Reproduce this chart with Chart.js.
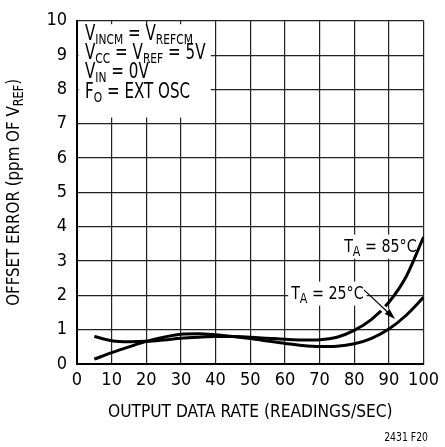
<!DOCTYPE html>
<html>
<head>
<meta charset="utf-8">
<script src="https://cdn.jsdelivr.net/npm/chart.js@4.4.1/dist/chart.umd.min.js"></script>
<style>
  html, body { margin: 0; padding: 0; background: #fff; }
  #wrap { width: 445px; height: 447px; }
</style>
</head>
<body>
<div id="wrap"><canvas id="c" width="445" height="447"></canvas></div>
<script>
// data
const rates = [5, 10, 15, 20, 25, 30, 35, 40, 45, 50, 55, 60, 65, 70, 75, 80, 85, 90, 95, 100];
const err85 = [0.80, 0.68, 0.65, 0.66, 0.70, 0.75, 0.78, 0.80, 0.80, 0.78, 0.75, 0.72, 0.70, 0.71, 0.78, 0.98, 1.30, 1.80, 2.55, 3.70];
const err25 = [0.14, 0.33, 0.50, 0.66, 0.78, 0.87, 0.88, 0.85, 0.80, 0.74, 0.67, 0.60, 0.54, 0.51, 0.52, 0.59, 0.75, 1.02, 1.42, 1.94];
const xMin = 0, xMax = 100, xStep = 10;
const yMin = 0, yMax = 10, yStep = 1;

const FAMILY = '"Liberation Sans Narrow", "DejaVu Sans Condensed", "Roboto", sans-serif';

// draws text made of [text, isSubscript] parts, squeezed horizontally by sx
function rich(ctx, parts, x, y, align, size, subSize, sx) {
  const main = size + 'px ' + FAMILY, sub = subSize + 'px ' + FAMILY;
  let w = 0;
  parts.forEach(([t, s]) => { ctx.font = s ? sub : main; w += ctx.measureText(t).width; });
  const sw = w * sx;
  const left = align === 'right' ? x - sw : align === 'center' ? x - sw / 2 : x;
  ctx.save();
  ctx.translate(left, y);
  ctx.scale(sx, 1);
  ctx.textAlign = 'left';
  ctx.textBaseline = 'alphabetic';
  let cx = 0;
  parts.forEach(([t, s]) => {
    ctx.font = s ? sub : main;
    ctx.fillText(t, cx, s ? subSize * 0.3 : 0);
    cx += ctx.measureText(t).width;
  });
  ctx.restore();
  return { left, width: sw };
}

function richWidth(ctx, parts, size, subSize, sx) {
  let w = 0;
  parts.forEach(([t, s]) => { ctx.font = (s ? subSize : size) + 'px ' + FAMILY; w += ctx.measureText(t).width; });
  return w * sx;
}

const label85 = [['T', 0], ['A', 1], [' = 85°C', 0]];
const label25 = [['T', 0], ['A', 1], [' = 25°C', 0]];
const conditions = [
  [['V', 0], ['INCM', 1], [' = V', 0], ['REFCM', 1]],
  [['V', 0], ['CC', 1], [' = V', 0], ['REF', 1], [' = 5V', 0]],
  [['V', 0], ['IN', 1], [' = 0V', 0]],
  [['F', 0], ['O', 1], [' = EXT OSC', 0]]
];
const SQ = 0.88;

const notes = {
  id: 'notes',
  beforeDatasetsDraw(chart) {
    const { ctx, scales: { x, y }, chartArea } = chart;
    ctx.save();
    ctx.fillStyle = '#fff';
    // conditions box
    const bx = chartArea.left + 1.5;
    const by = y.getPixelForValue(9.9);
    ctx.fillRect(bx, by, x.getPixelForValue(38.6) - bx, y.getPixelForValue(7.18) - by);
    // label backgrounds
    const w85 = richWidth(ctx, label85, 18, 14, SQ);
    const r85 = x.getPixelForValue(98);
    const c85 = y.getPixelForValue(3.45);
    ctx.fillRect(r85 - w85 - 3, c85 - 11, w85 + 6, 24);
    const w25 = richWidth(ctx, label25, 18, 14, SQ);
    const l25 = x.getPixelForValue(61.8);
    const c25 = y.getPixelForValue(2.08);
    ctx.fillRect(l25 - 3, c25 - 11, w25 + 6, 24);
    ctx.restore();
  },
  afterDatasetsDraw(chart) {
    const { ctx, scales: { x, y } } = chart;
    const x1 = x.getPixelForValue(82.8), y1 = y.getPixelForValue(2.16);
    const x2 = x.getPixelForValue(91.8), y2 = y.getPixelForValue(1.31);
    const ang = Math.atan2(y2 - y1, x2 - x1);
    ctx.save();
    ctx.lineCap = 'butt';
    // white halo cuts the 85C curve where the arrow crosses it
    ctx.strokeStyle = '#fff';
    ctx.lineWidth = 6;
    ctx.beginPath();
    ctx.moveTo(x.getPixelForValue(86.5), y.getPixelForValue(1.79));
    ctx.lineTo(x.getPixelForValue(89.5), y.getPixelForValue(1.51));
    ctx.stroke();
    ctx.strokeStyle = '#000';
    ctx.lineWidth = 1.2;
    ctx.beginPath();
    ctx.moveTo(x1, y1);
    ctx.lineTo(x2 - 6 * Math.cos(ang), y2 - 6 * Math.sin(ang));
    ctx.stroke();
    ctx.fillStyle = '#000';
    ctx.beginPath();
    ctx.moveTo(x2, y2);
    ctx.lineTo(x2 - 11 * Math.cos(ang) + 3.5 * Math.sin(ang), y2 - 11 * Math.sin(ang) - 3.5 * Math.cos(ang));
    ctx.lineTo(x2 - 11 * Math.cos(ang) - 3.5 * Math.sin(ang), y2 - 11 * Math.sin(ang) + 3.5 * Math.cos(ang));
    ctx.closePath();
    ctx.fill();
    ctx.restore();
  },
  afterDraw(chart) {
    const { ctx, scales: { x, y }, chartArea } = chart;
    ctx.save();
    ctx.fillStyle = '#000';
    // conditions
    const baselines = [40, 58.5, 77.5, 98];
    conditions.forEach((parts, i) => rich(ctx, parts, 85, baselines[i], 'left', 20.5, 14.5, 0.82));
    // curve labels
    rich(ctx, label85, x.getPixelForValue(98), y.getPixelForValue(3.45) + 6.5, 'right', 18, 14, SQ);
    rich(ctx, label25, x.getPixelForValue(61.8), y.getPixelForValue(2.08) + 6.5, 'left', 18, 14, SQ);
    // axis titles
    rich(ctx, [['OUTPUT DATA RATE (READINGS/SEC)', 0]], (chartArea.left + chartArea.right) / 2, 416.5, 'center', 18.5, 14, 0.93);
    ctx.translate(19, (chartArea.top + chartArea.bottom) / 2);
    ctx.rotate(-Math.PI / 2);
    rich(ctx, [['OFFSET ERROR (ppm OF V', 0], ['REF', 1], [')', 0]], 0, 0, 'center', 18, 13.5, 0.93);
    ctx.restore();
    ctx.save();
    ctx.fillStyle = '#000';
    rich(ctx, [['2431 F20', 0]], 428, 441, 'right', 11.5, 9, 0.9);
    ctx.restore();
  }
};

new Chart(document.getElementById('c'), {
  type: 'line',
  data: {
    datasets: [
      { label: 'TA = 85°C', data: rates.map((r, i) => ({ x: r, y: err85[i] })) },
      { label: 'TA = 25°C', data: rates.map((r, i) => ({ x: r, y: err25[i] })) }
    ]
  },
  options: {
    responsive: false,
    animation: false,
    devicePixelRatio: 1,
    layout: { padding: { left: 0, top: 13, right: 16, bottom: 0 } },
    elements: {
      line: { borderColor: '#000', borderWidth: 3, tension: 0.4, cubicInterpolationMode: 'monotone', fill: false },
      point: { radius: 0 }
    },
    plugins: { legend: { display: false }, tooltip: { enabled: false } },
    scales: {
      x: {
        type: 'linear', min: xMin, max: xMax,
        afterFit: s => { s.height = 83; },
        ticks: { stepSize: xStep, color: '#000', font: { family: FAMILY, size: 18 }, padding: 6, maxRotation: 0 },
        grid: { color: '#222', lineWidth: 1.2, drawTicks: false },
        border: { color: '#000', width: 2 }
      },
      y: {
        min: yMin, max: yMax,
        afterFit: s => { s.width = 77; },
        ticks: { stepSize: yStep, color: '#000', font: { family: FAMILY, size: 18 }, padding: 10 },
        grid: { color: '#222', lineWidth: 1.2, drawTicks: false },
        border: { color: '#000', width: 2 }
      }
    }
  },
  plugins: [notes]
});
</script>
</body>
</html>
